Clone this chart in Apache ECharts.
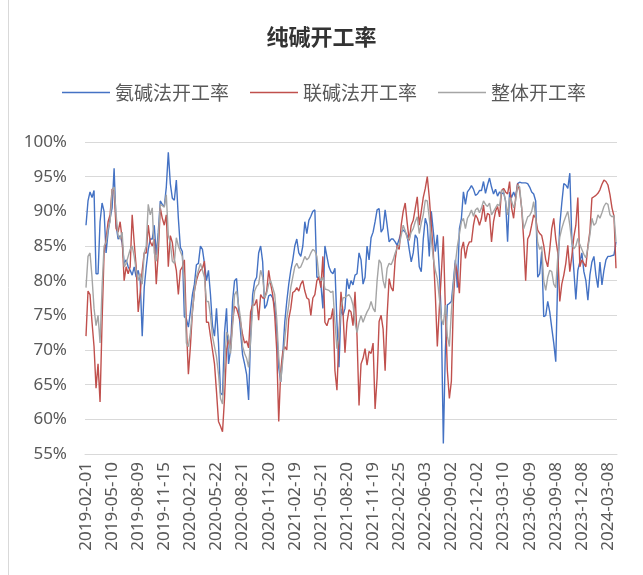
<!DOCTYPE html>
<html>
<head>
<meta charset="utf-8">
<script src="https://cdn.jsdelivr.net/npm/echarts@6/dist/echarts.min.js"></script>
<style>
  html, body { margin: 0; padding: 0; background: #fff; }
  #chart { width: 643px; height: 575px; }
</style>
</head>
<body>
<div id="chart"></div>
<script>
// 周度日期：从 2019-02-01 起每周五，节假日缺失的周跳过
const startDate = "2019-02-01";
const weekCount = 265;
const skipWeeks = ["2019-02-08", "2019-10-04", "2020-01-31", "2022-02-04", "2022-05-06", "2023-01-27"];

const seriesNames = ["氨碱法开工率", "联碱法开工率", "整体开工率"];
const seriesColors = ["#4472C4", "#C0504D", "#A5A5A5"];

// 氨碱法开工率 (%)
const ammoniaRate = [
  88, 91.5, 92.8, 92, 93, 81, 81, 88.5, 91.2, 90,
  84, 87, 89, 90.5, 96.2, 88, 86, 86.5, 85.5, 82.5,
  83, 82, 81.5, 80.8, 82, 80.5, 81.5, 80, 72, 79,
  82, 84.5, 86, 86, 88, 83.7, 87, 91.5, 91, 90.7,
  93.5, 98.5, 94, 91.9, 91.6, 94.5, 89, 84.8, 84.2, 74.8,
  74.5, 73.3, 75.5, 78, 79.5, 82.3, 82.5, 85, 84.5, 82.5,
  80, 81.5, 78, 73.5, 72, 76, 71, 63.8, 63.5, 72.5,
  76, 68, 70, 77, 80, 80.3, 76, 72.6, 69.3, 68,
  66.5, 62.8, 72, 78, 79.9, 80.5, 84, 85, 82.7, 76,
  76.5, 77.8, 78, 77.5, 76.5, 73, 67.5, 65.4, 69.3, 74,
  77, 79.5, 81.5, 83, 85, 86, 84, 83.5, 85, 88.5,
  86.8, 88.7, 89.3, 90, 90.2, 80.5, 80.5, 79.5, 76, 85,
  83.5, 82, 81.3, 81, 81.8, 74, 67.5, 76, 75, 76,
  80.3, 78.8, 80, 79.4, 80.8, 81, 84, 83, 79.5, 80.5,
  85, 83, 86.2, 87, 88.5, 90.2, 90.4, 87, 87.5, 90.2,
  88, 85.6, 86, 86, 85.6, 85.1, 86, 87, 87.3, 87,
  86.5, 84.5, 82.7, 84, 86.6, 86.1, 82, 81.3, 86, 89,
  88, 83.5, 90, 87.1, 84.2, 86.6, 81.5, 74.5, 56.5, 70,
  76.5, 76.7, 77, 79.9, 83, 79, 87.5, 89, 92.8, 91,
  92.8, 93.2, 93.7, 93.2, 92.3, 92.5, 93, 93, 94.3, 92.6,
  93.8, 94.8, 93.5, 92.5, 93.2, 92.2, 92.8, 92.5, 92.7, 91.5,
  85.6, 92.8, 92, 92.8, 92, 94, 94.2, 94.1, 94.1, 94.1,
  94, 93.5, 92.8, 92.5, 91.5, 80.5, 81, 84.2, 74.8, 75,
  77, 75.5, 73.2, 71, 68.3, 81, 88, 91.2, 94, 93.8,
  93.3, 95.5, 86, 81.5, 77.3, 81.5, 82.7, 84, 81.3, 80,
  77.2, 80.8, 82.7, 83.5, 80.8, 79, 82.7, 79.4, 81.5, 83,
  83.5, 83.5, 83.6, 83.7, 85.6
];

// 联碱法开工率 (%)
const jointRate = [
  72, 78.5, 78, 74, 70.5, 64.5, 68, 62.5, 74, 84,
  86, 88.5, 89.5, 93.2, 93, 87.5, 87, 88.5, 86, 80,
  82, 81, 82, 89.5, 85.5, 82, 75.5, 78.3, 81.5, 84,
  84, 88, 85.6, 85, 86, 79.5, 84, 90.5, 89, 88,
  89.5, 82, 86.5, 85.5, 83, 81.5, 78, 81.5, 82, 83,
  73.5, 66.5, 70.5, 75.5, 78.5, 80, 81, 81.5, 81.8, 82.8,
  74, 74, 72, 70, 68, 64, 59.7, 59, 58.2, 63,
  70, 71.5, 70.2, 74, 76.3, 76, 75, 74, 72.2, 71,
  71.3, 70.3, 75.5, 76.5, 76.5, 77.3, 74.3, 78, 77.5, 77.5,
  78.5, 81.5, 79.5, 78, 75, 70, 59.7, 67, 69.7, 70.5,
  70, 74.5, 76, 78.3, 78.5, 79, 78.5, 79.5, 80, 78.5,
  77.5, 77.3, 75, 77.5, 78, 80, 80.5, 79, 83.5, 74,
  73.5, 74.5, 74.5, 76, 67, 64.2, 72, 78.4, 75.5, 69.6,
  74, 75.8, 75.5, 73.5, 78.4, 72, 62, 68, 68.8, 70.2,
  67.8, 69.8, 69.5, 71, 61.5, 66, 74.1, 75, 73, 67,
  75, 80.3, 79, 78.5, 83, 85.1, 84.5, 88, 90, 91.2,
  88.3, 85.8, 88, 88.7, 90.4, 92.1, 88, 90, 92, 93.3,
  95, 92, 88, 84, 78, 70.5, 76, 81, 86.4, 76,
  67, 63, 65.5, 77, 82.5, 81, 78.2, 84.5, 85.6, 83.2,
  84.9, 85.6, 85.6, 88, 89.5, 89, 88, 89, 90.9, 88.5,
  89.7, 89.5, 85.6, 88.5, 90, 90.7, 89.2, 93, 93.3, 92.8,
  92.5, 94.3, 90.5, 89, 91.9, 94, 93, 90.5, 86, 80,
  86, 86.6, 88, 89.5, 89, 87.3, 86.8, 86.5, 85.1, 83,
  82, 84.5, 87.5, 89, 86, 84, 77, 79.5, 80.8, 82.5,
  85.1, 81.3, 83.5, 86.3, 88, 92, 82, 83, 82.5, 82,
  85, 87.1, 91.9, 92.1, 92.3, 92.6, 93.1, 93.9, 94.5, 94.3,
  93.8, 92.4, 90.5, 89.3, 81.8
];

// 整体开工率 (%)
const totalRate = [
  79, 83.5, 84, 80.5, 76, 73.5, 75, 71, 79, 85,
  85.5, 87.5, 88.5, 93, 93.5, 89.5, 86.5, 86, 87, 82,
  82.5, 83.5, 84.5, 85, 83.5, 81.5, 80, 81, 79.5, 84,
  85, 91, 89.5, 90.5, 84, 82.8, 86, 91, 90.8, 90.6,
  92.4, 86.5, 85.5, 82.8, 82.5, 86.2, 85, 84.2, 83.5, 79.5,
  71, 70.5, 72.5, 75.5, 78.5, 80.5, 81.5, 82.5, 81.5, 80.5,
  77, 77, 75, 72, 70.5, 69, 66.5, 63, 62.2, 67.5,
  72.6, 72, 69.5, 73.5, 78, 78.5, 76.5, 74.5, 70.5, 69.5,
  68.8, 67.5, 71.5, 76, 78.5, 79.2, 79.5, 81.5, 80.5, 77.5,
  78.2, 79.5, 80, 79, 78, 74.5, 69, 65.4, 68.5, 71.5,
  74.5, 76.5, 79, 80.5, 82, 82.5, 81.8, 82, 82.7, 83.5,
  83, 83.3, 84, 84.5, 84.3, 83.5, 80.7, 80, 80.5, 78.8,
  78.7, 78.6, 78.3, 78.5, 74, 70.2, 72, 76, 77.5, 77.6,
  77.8, 78, 77.5, 76.5, 74, 72.5, 74, 75, 74, 74.8,
  75.5, 76, 77, 76, 75.5, 80, 83, 82.5, 80, 78.9,
  81.8, 82.5, 82.3, 83, 84, 84.7, 85.2, 86.5, 88, 87.2,
  86.1, 86, 87, 87.5, 88.5, 89.2, 86.8, 88.3, 89.5, 91.6,
  91.5, 89, 86, 83.2, 81.5, 80.3, 77.5, 74.5, 73.6, 76.5,
  72, 70.5, 75.5, 79.4, 82.5, 85, 86.7, 88.5, 89, 87.5,
  89, 89.5, 90.2, 89.3, 90.2, 90.5, 89.8, 90.5, 91.5, 91,
  90.7, 91.2, 89.5, 90, 90.5, 91, 90.8, 93, 93, 91.4,
  89.5, 92, 91.5, 90.5, 91.5, 93.8, 93.5, 90.5, 87.5, 88.3,
  89.2, 89.4, 90, 91.4, 89, 85.5, 84.5, 85, 80, 78.6,
  80.5, 81.5, 81.3, 79.5, 79, 83.5, 86.3, 87.5, 88.5, 89.3,
  90, 88, 85.5, 84.6, 85, 86.1, 85.2, 84.5, 83.8, 83.3,
  84.7, 86.6, 89, 88, 88.3, 89.5, 89, 89.8, 90.7, 91.2,
  91, 89.5, 89.2, 89.4, 85.6
];

function buildDates() {
  const dates = [];
  let t = Date.parse(startDate + "T00:00:00Z");
  while (dates.length < weekCount) {
    const s = new Date(t).toISOString().slice(0, 10);
    if (!skipWeeks.includes(s)) dates.push(s);
    t += 7 * 24 * 3600 * 1000;
  }
  return dates;
}

const dates = buildDates();
const chart = echarts.init(document.getElementById("chart"));
const fontFamily = "'Noto Sans', 'Noto Sans CJK SC', sans-serif";

const option = {
  backgroundColor: "#fff",
  animation: false,
  textStyle: { fontFamily: fontFamily },
  title: {
    text: "纯碱开工率",
    left: "center",
    top: 21,
    textStyle: { fontSize: 22, fontWeight: "bold", color: "#333", fontFamily: "'Noto Sans CJK SC'" },
  },
  // 左侧图表区边框
  graphic: [
    {
      type: "line",
      shape: { x1: 8.5, y1: 0, x2: 8.5, y2: 575 },
      style: { stroke: "#D9D9D9", lineWidth: 1 },
    },
  ],
  legend: {
    left: 57,
    top: 78,
    icon: "rect",
    itemWidth: 48,
    itemHeight: 1.5,
    itemGap: 21,
    textStyle: { fontSize: 19, color: "#595959", fontFamily: "'Noto Sans CJK SC'" },
    data: seriesNames,
  },
  grid: { left: 85, right: 26, top: 142, bottom: 121 },
  xAxis: {
    type: "category",
    data: dates,
    boundaryGap: true,
    axisLine: { lineStyle: { color: "#D9D9D9" } },
    axisTick: { show: false },
    axisLabel: { interval: 12, rotate: 90, fontSize: 17, color: "#595959", margin: 8 },
  },
  yAxis: {
    type: "value",
    min: 55,
    max: 100,
    interval: 5,
    axisLine: { show: false },
    axisTick: { show: false },
    axisLabel: { formatter: "{value}%", fontSize: 17, color: "#595959", margin: 18 },
    splitLine: { lineStyle: { color: "#D9D9D9" } },
  },
  series: [ammoniaRate, jointRate, totalRate].map((d, k) => ({
    name: seriesNames[k],
    type: "line",
    data: d,
    symbol: "none",
    lineStyle: { width: 1.4, color: seriesColors[k] },
    itemStyle: { color: seriesColors[k] },
  })),
};
chart.setOption(option);
</script>
</body>
</html>
